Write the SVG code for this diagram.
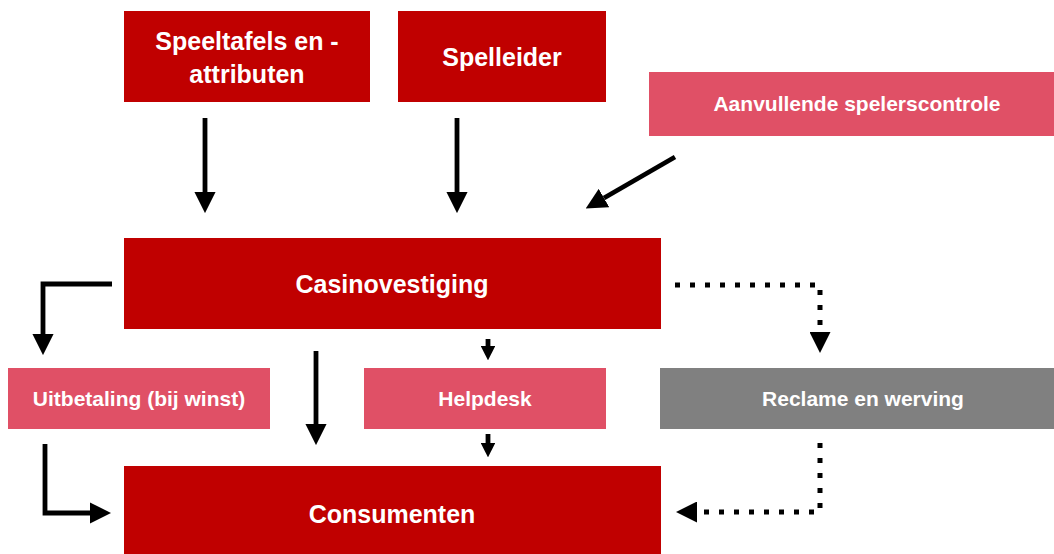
<svg xmlns="http://www.w3.org/2000/svg" width="1054" height="554" viewBox="0 0 1054 554">
<style>
.dark{fill:#C00000}
.pink{fill:#E05066}
.gray{fill:#808080}
.t{font-family:"Liberation Sans",Arial,sans-serif;font-weight:bold;fill:#fff;text-anchor:middle}
.big{font-size:25px}
.sm{font-size:21px}
.ln{fill:none;stroke:#000;stroke-width:4.8}
.dash{fill:none;stroke:#000;stroke-width:5;stroke-dasharray:5 10}
</style>
<defs>
<marker id="ah" viewBox="0 0 10 10" refX="0" refY="5" markerWidth="4.4" markerHeight="4.4" markerUnits="strokeWidth" orient="auto"><path d="M0,0 L10,5 L0,10 Z" fill="#000"/></marker>
<marker id="ahs" viewBox="0 0 10 10" refX="0" refY="5" markerWidth="3" markerHeight="3" markerUnits="strokeWidth" orient="auto"><path d="M0,0 L10,5 L0,10 Z" fill="#000"/></marker>
<marker id="ahd" viewBox="0 0 10 10" refX="0" refY="5" markerWidth="4.2" markerHeight="4.2" markerUnits="strokeWidth" orient="auto"><path d="M0,0 L10,5 L0,10 Z" fill="#000"/></marker>
</defs>
<rect width="1054" height="554" fill="#fff"/>
<g id="speeltafels"><rect class="dark" x="124" y="11" width="246" height="91"/><text class="t big" x="247" y="50">Speeltafels en -</text><text class="t big" x="247" y="83">attributen</text></g>
<g id="spelleider"><rect class="dark" x="398" y="11" width="208" height="91"/><text class="t big" x="502" y="66">Spelleider</text></g>
<g id="aanvullende"><rect class="pink" x="649" y="72" width="405" height="64"/><text class="t sm" x="857" y="111">Aanvullende spelerscontrole</text></g>
<g id="casino"><rect class="dark" x="124" y="238" width="537" height="91"/><text class="t big" x="392" y="293">Casinovestiging</text></g>
<g id="uitbetaling"><rect class="pink" x="8" y="368" width="262" height="61"/><text class="t sm" x="139" y="406">Uitbetaling (bij winst)</text></g>
<g id="helpdesk"><rect class="pink" x="364" y="368" width="242" height="61"/><text class="t sm" x="485" y="406">Helpdesk</text></g>
<g id="reclame"><rect class="gray" x="660" y="368" width="394" height="61"/><text class="t sm" x="863" y="406">Reclame en werving</text></g>
<g id="consumenten"><rect class="dark" x="124" y="466" width="537" height="88"/><text class="t big" x="392" y="523">Consumenten</text></g>
<g id="connectors">
<path class="ln" d="M205,118 V192" marker-end="url(#ah)"/>
<path class="ln" d="M457,118 V192" marker-end="url(#ah)"/>
<path class="ln" d="M675,157 L604,198" marker-end="url(#ah)"/>
<path class="ln" d="M112,284 H43 V334" marker-end="url(#ah)"/>
<path class="ln" d="M316,351 V424" marker-end="url(#ah)"/>
<path class="ln" d="M488,339 V346" marker-end="url(#ahs)"/>
<path class="ln" d="M488,434 V443" marker-end="url(#ahs)"/>
<path class="ln" d="M45,444 V513 H90" marker-end="url(#ah)"/>
<path class="dash" d="M675,285 H820 V332" marker-end="url(#ahd)"/>
<path class="dash" d="M820,443 V512 H697" marker-end="url(#ahd)"/>
</g>
</svg>
